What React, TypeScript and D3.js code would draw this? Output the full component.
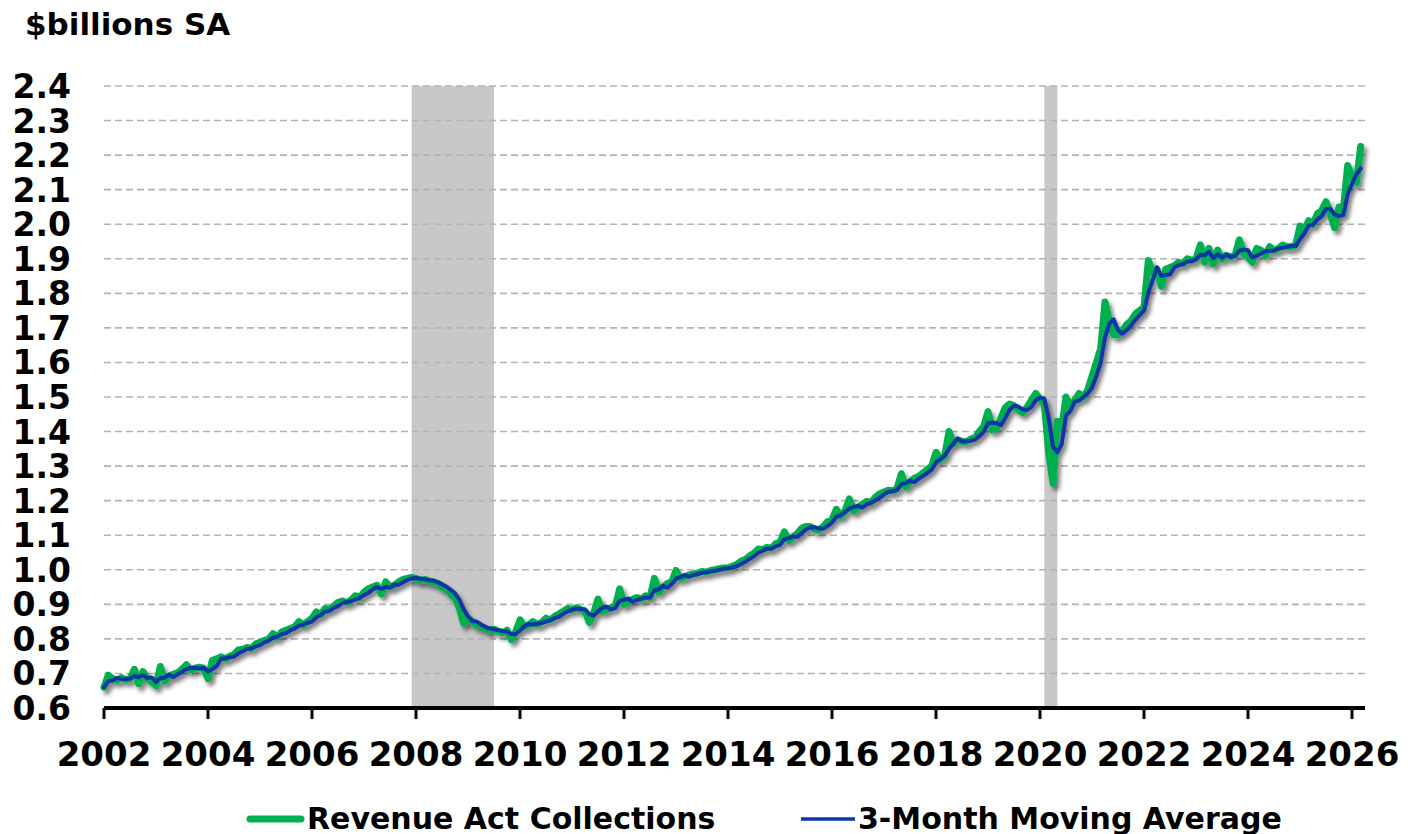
import React from "react";
import * as d3 from "d3";

// monthly revenue act collections, $ billions SA (Jan of first year onward)
const rev2002to2007 = [
  0.660, 0.695, 0.685, 0.680, 0.688, 0.682, 0.685, 0.712, 0.670, 0.705, 0.685, 0.675,
  0.665, 0.720, 0.678, 0.692, 0.698, 0.702, 0.712, 0.725, 0.710, 0.715, 0.718, 0.715,
  0.685, 0.738, 0.742, 0.748, 0.742, 0.750, 0.755, 0.768, 0.770, 0.775, 0.772, 0.785,
  0.790, 0.795, 0.800, 0.815, 0.805, 0.820, 0.825, 0.830, 0.835, 0.850, 0.840, 0.850,
  0.860, 0.878, 0.870, 0.888, 0.885, 0.895, 0.905, 0.910, 0.905, 0.912, 0.925, 0.920,
  0.935, 0.945, 0.950, 0.955, 0.930, 0.965, 0.950, 0.955, 0.965, 0.972, 0.975, 0.978,
];
const rev2008to2013 = [
  0.975, 0.970, 0.972, 0.968, 0.965, 0.960, 0.950, 0.945, 0.930, 0.920, 0.890, 0.845,
  0.860, 0.850, 0.840, 0.835, 0.830, 0.825, 0.828, 0.822, 0.818, 0.825, 0.798, 0.820,
  0.855, 0.835, 0.840, 0.850, 0.842, 0.848, 0.860, 0.855, 0.865, 0.872, 0.880, 0.888,
  0.885, 0.890, 0.885, 0.880, 0.848, 0.875, 0.915, 0.880, 0.885, 0.890, 0.895, 0.945,
  0.900, 0.905, 0.915, 0.920, 0.915, 0.925, 0.920, 0.975, 0.935, 0.950, 0.960, 0.965,
  0.998, 0.975, 0.980, 0.985, 0.988, 0.990, 0.995, 0.993, 0.998, 1.000, 1.003, 1.005,
];
const rev2014to2019 = [
  1.005, 1.010, 1.015, 1.025, 1.030, 1.040, 1.048, 1.060, 1.058, 1.065, 1.062, 1.075,
  1.080, 1.110, 1.085, 1.095, 1.105, 1.120, 1.125, 1.125, 1.118, 1.115, 1.125, 1.140,
  1.145, 1.175, 1.155, 1.170, 1.205, 1.170, 1.180, 1.190, 1.198, 1.195, 1.210, 1.220,
  1.225, 1.230, 1.228, 1.235, 1.278, 1.240, 1.255, 1.265, 1.270, 1.280, 1.290, 1.300,
  1.340, 1.320, 1.330, 1.400, 1.365, 1.375, 1.372, 1.370, 1.378, 1.382, 1.400, 1.415,
  1.458, 1.405, 1.410, 1.440, 1.470, 1.480, 1.475, 1.462, 1.455, 1.470, 1.490, 1.510,
];
const rev2020to2026 = [
  1.495, 1.480, 1.340, 1.250, 1.430, 1.410, 1.500, 1.470, 1.490, 1.510, 1.500, 1.520,
  1.560, 1.600, 1.640, 1.775, 1.720, 1.680, 1.680, 1.690, 1.710, 1.720, 1.740, 1.750,
  1.760, 1.895, 1.860, 1.870, 1.820, 1.870, 1.875, 1.880, 1.890, 1.885, 1.900, 1.895,
  1.900, 1.940, 1.890, 1.930, 1.885, 1.925, 1.900, 1.910, 1.905, 1.910, 1.955, 1.915,
  1.905, 1.890, 1.930, 1.925, 1.910, 1.935, 1.925, 1.930, 1.940, 1.935, 1.935, 1.940,
  1.995, 1.985, 2.010, 2.000, 2.030, 2.040, 2.065, 2.030, 1.990, 2.050, 2.040, 2.170,
  2.140, 2.120, 2.225,
];

const startYear = 2002;
const yTicks = [0.6, 0.7, 0.8, 0.9, 1.0, 1.1, 1.2, 1.3, 1.4, 1.5, 1.6, 1.7, 1.8, 1.9, 2.0, 2.1, 2.2, 2.3, 2.4];
const xTicks = [2002, 2004, 2006, 2008, 2010, 2012, 2014, 2016, 2018, 2020, 2022, 2024, 2026];
const recessions = [
  [2007 + 11 / 12, 2009.5],
  [2020 + 1 / 12, 2020 + 4 / 12],
];
const legendItems = ["Revenue Act Collections", "3-Month Moving Average"];

const W = 1418;
const H = 834;
const FONT = "'DejaVu Sans', Verdana, sans-serif";

export default function App() {
  const collections = [...rev2002to2007, ...rev2008to2013, ...rev2014to2019, ...rev2020to2026];
  const points = collections.map((v, i) => ({ t: startYear + i / 12, v }));
  // 3-month trailing average
  const avg = points.map((p, i) => {
    const win = collections.slice(Math.max(0, i - 2), i + 1);
    return { t: p.t, v: d3.mean(win) as number };
  });

  const x = d3.scaleLinear().domain([2002, 2026.25]).range([104, 1365]);
  const y = d3.scaleLinear().domain([0.6, 2.4]).range([708, 86]);
  const line = d3
    .line<{ t: number; v: number }>()
    .x((d) => x(d.t))
    .y((d) => y(d.v));

  const [x0, x1] = x.range();

  return (
    <svg
      width={W}
      height={H}
      style={{ position: "absolute", left: 0, top: 0, background: "#fff" }}
      fontFamily={FONT}
      fontWeight="bold"
    >
      <defs>
        <filter id="shadow" x="-5%" y="-5%" width="110%" height="115%">
          <feDropShadow dx="3" dy="4" stdDeviation="2.2" floodColor="#000" floodOpacity="0.5" />
        </filter>
      </defs>

      <text x={25} y={35} fontSize={31} fill="#000">$billions SA</text>

      {recessions.map(([a, b], i) => (
        <rect key={i} x={x(a)} y={y(2.4)} width={x(b) - x(a)} height={y(0.6) - y(2.4)} fill="#c8c8c8" />
      ))}

      {yTicks.slice(1).map((t) => (
        <line key={t} x1={x0} x2={x1} y1={y(t)} y2={y(t)} stroke="#b4b4b4" strokeWidth={1.6} strokeDasharray="7,4" />
      ))}

      {yTicks.map((t) => (
        <text key={t} x={71} y={y(t) + 12} fontSize={33} textAnchor="end" fill="#000">
          {t.toFixed(1)}
        </text>
      ))}

      <g filter="url(#shadow)">
        <path d={line(points) ?? ""} fill="none" stroke="#00b050" strokeWidth={7} strokeLinejoin="round" strokeLinecap="round" />
        <path d={line(avg) ?? ""} fill="none" stroke="#0d36a6" strokeWidth={4} strokeLinejoin="round" strokeLinecap="round" />
      </g>

      <line x1={x0} x2={x1} y1={y(0.6)} y2={y(0.6)} stroke="#000" strokeWidth={4} />
      {xTicks.map((t) => (
        <g key={t}>
          <line x1={x(t)} x2={x(t)} y1={y(0.6)} y2={y(0.6) + 11} stroke="#000" strokeWidth={3} />
          <text x={x(t)} y={766} fontSize={34} textAnchor="middle" fill="#000">{t}</text>
        </g>
      ))}

      <line x1={250} x2={301} y1={819} y2={819} stroke="#00b050" strokeWidth={7} strokeLinecap="round" />
      <text x={307} y={829} fontSize={30} fill="#000">{legendItems[0]}</text>
      <line x1={801} x2={855} y1={819} y2={819} stroke="#0d36a6" strokeWidth={3.5} />
      <text x={858} y={829} fontSize={30} fill="#000">{legendItems[1]}</text>
    </svg>
  );
}
